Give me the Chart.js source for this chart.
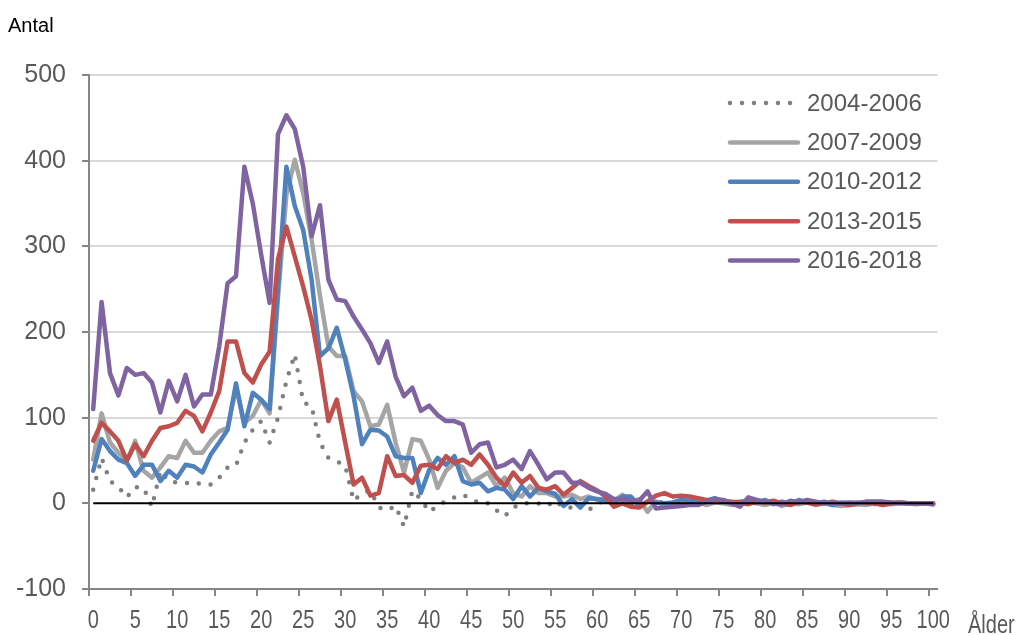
<!DOCTYPE html>
<html><head><meta charset="utf-8">
<script src="https://cdn.jsdelivr.net/npm/chart.js@4.4.1/dist/chart.umd.min.js"></script>
<style>html,body{margin:0;padding:0;background:#fff;}#wrap{width:1019px;height:635px;position:relative;}</style>
</head><body><div id="wrap"><canvas id="c" width="1019" height="635"></canvas></div>
<script>
const categories = ['0','1','2','3','4','5','6','7','8','9','10','11','12','13','14','15','16','17','18','19','20','21','22','23','24','25','26','27','28','29','30','31','32','33','34','35','36','37','38','39','40','41','42','43','44','45','46','47','48','49','50','51','52','53','54','55','56','57','58','59','60','61','62','63','64','65','66','67','68','69','70','71','72','73','74','75','76','77','78','79','80','81','82','83','84','85','86','87','88','89','90','91','92','93','94','95','96','97','98','99','100'];
const xTickLabels = ['0','5','10','15','20','25','30','35','40','45','50','55','60','65','70','75','80','85','90','95','100'];
const yTicks = [-100, 0, 100, 200, 300, 400, 500];
const seriesNames = ['2004-2006','2007-2009','2010-2012','2013-2015','2016-2018'];

const v2004 = [16,53,26,19,7,19,18,-4,38,26,
  24,24,22,24,22,30,42,44,71,86,
  96,71,100,143,174,118,113,71,53,49,
  44,3,12,15,-5,-8,-3,-27,15,5,
  -10,-3,3,7,10,5,0,0,-8,-15,
  -5,0,0,0,-3,3,-5,-5,0,-8,
  0,3,-2,5,0,3,-8,0,2,-1,
  2,0,-1,1,0,1,0,-1,1,0,
  0,1,-1,0,1,0,0,-1,0,0,
  1,0,0,-1,0,0,0,0,0,0,
  0];
const v2007 = [51,105,71,59,49,73,38,30,42,55,
  53,73,59,59,73,84,88,135,94,102,
  121,105,240,360,401,362,308,242,183,172,
  172,131,119,90,92,115,71,36,75,73,
  51,18,38,47,42,24,30,36,20,30,
  12,8,20,12,12,8,8,10,5,8,
  4,6,3,10,2,5,-10,2,-3,0,
  3,-1,2,-2,1,0,-2,-1,2,0,
  -2,1,-3,0,-1,1,-2,0,-2,-3,
  -2,-1,-2,0,-1,-1,0,0,-1,0,
  0];
const v2010 = [38,75,61,51,47,32,45,45,26,38,
  30,45,43,36,57,71,86,140,90,129,
  121,110,250,393,347,319,261,172,181,205,
  168,125,69,86,85,78,55,53,53,12,
  39,53,45,55,26,22,24,14,18,16,
  5,20,8,18,14,11,-3,5,-5,6,
  5,3,0,8,8,-3,2,1,0,1,
  4,3,2,3,6,2,1,2,3,1,
  4,-1,2,-1,4,1,0,2,-2,1,
  0,1,0,0,1,0,1,0,0,0,
  -1];
const v2013 = [73,94,84,73,50,69,55,73,88,90,
  94,108,102,84,106,131,189,189,152,141,
  162,177,285,323,288,253,214,160,96,121,
  71,22,30,9,12,55,32,33,24,44,
  45,40,55,47,51,45,57,45,30,20,
  36,24,32,18,16,20,10,18,26,20,
  15,8,-4,0,-4,-5,2,9,12,8,
  9,8,6,4,4,3,2,1,-1,2,
  1,3,0,-2,2,1,-1,0,2,0,
  -2,0,1,0,-2,0,1,0,0,0,
  0];
const v2016 = [110,235,152,126,158,150,152,141,106,143,
  119,150,113,127,127,183,257,265,393,350,
  290,234,431,453,437,393,312,348,261,238,
  236,218,203,187,164,189,148,125,135,108,
  114,103,96,96,92,59,69,71,42,45,
  51,40,61,45,28,36,36,24,24,18,
  14,11,5,5,3,3,14,-6,-5,-4,
  -3,-2,-2,2,5,4,0,-4,7,4,
  2,0,-1,3,1,4,2,0,1,0,
  1,0,2,2,2,1,0,0,0,0,
  -1];

const TXT = '#595959';
const AXIS = '#868686';
const GRID = '#d9d9d9';
const SANS = "'Liberation Sans',Arial,sans-serif";
const NARROW_SCALE = 0.8;

const styles = [
  {color:'#7f7f7f', dash:[0,12]},
  {color:'#a5a5a5', dash:[]},
  {color:'#4f81bd', dash:[]},
  {color:'#c0504d', dash:[]},
  {color:'#8064a2', dash:[]}
];
const values = [v2004, v2007, v2010, v2013, v2016];

const datasets = values.map((vals, i) => ({
  label: seriesNames[i],
  data: vals,
  borderColor: styles[i].color,
  backgroundColor: styles[i].color,
  borderWidth: 4.5,
  borderDash: styles[i].dash,
  borderCapStyle: 'round',
  borderJoinStyle: 'round',
  pointRadius: 0,
  pointHoverRadius: 0,
  tension: 0,
  fill: false,
  order: 5 - i
}));

function narrowText(c, text, x, y, align) {
  c.save();
  c.translate(x, y);
  c.scale(NARROW_SCALE, 1);
  c.textAlign = align;
  c.fillText(text, 0, 0);
  c.restore();
}

const extras = {
  id: 'extras',
  afterDatasetsDraw(chart) {
    const c = chart.ctx, x = chart.scales.x, y = chart.scales.y;
    c.save();
    c.strokeStyle = '#000';
    c.lineWidth = 2;
    c.beginPath();
    const y0 = y.getPixelForValue(0);
    c.moveTo(x.getPixelForValue(0), y0);
    c.lineTo(x.getPixelForValue(categories.length - 1), y0);
    c.stroke();
    c.restore();
  },
  afterDraw(chart) {
    const c = chart.ctx, x = chart.scales.x;
    c.save();
    // x tick labels (condensed)
    c.fillStyle = TXT;
    c.font = "25px " + SANS;
    c.textBaseline = 'alphabetic';
    xTickLabels.forEach(l => {
      narrowText(c, l, x.getPixelForValue(categories.indexOf(l)), 628, 'center');
    });
    narrowText(c, 'Ålder', 968, 633, 'left');
    // y title
    c.fillStyle = '#000';
    c.font = "20px " + SANS;
    c.textAlign = 'left';
    c.fillText('Antal', 8, 32);
    // legend
    chart.data.datasets.forEach((ds, i) => {
      const yy = 103 + i * 39.4;
      c.strokeStyle = ds.borderColor;
      c.lineWidth = ds.borderWidth;
      c.lineCap = 'round';
      c.setLineDash(ds.borderDash || []);
      c.beginPath();
      c.moveTo(730, yy);
      c.lineTo((ds.borderDash && ds.borderDash.length) ? 792 : 798, yy);
      c.stroke();
      c.setLineDash([]);
      c.fillStyle = TXT;
      c.font = "24px " + SANS;
      c.textBaseline = 'middle';
      c.textAlign = 'left';
      c.fillText(ds.label, 807, yy + 1);
    });
    c.restore();
  }
};

new Chart(document.getElementById('c'), {
  type: 'line',
  data: { labels: categories, datasets },
  options: {
    responsive: false,
    animation: false,
    events: [],
    layout: { padding: { top: 75, right: 81.6, left: 0, bottom: 0 } },
    plugins: { legend: { display: false }, tooltip: { enabled: false }, title: { display: false } },
    scales: {
      x: {
        type: 'category',
        offset: true,
        border: { display: true, color: AXIS, width: 2 },
        grid: {
          display: true, drawOnChartArea: false, drawTicks: true, offset: true,
          tickLength: 7, lineWidth: 2,
          tickColor: ctx => (ctx.index !== undefined && ctx.index % 5 === 0) ? AXIS : 'rgba(0,0,0,0)'
        },
        ticks: { display: false, autoSkip: false, maxRotation: 0, minRotation: 0 },
        afterFit: s => { s.height = 46; }
      },
      y: {
        type: 'linear',
        min: yTicks[0], max: yTicks[yTicks.length - 1],
        afterBuildTicks: s => { s.ticks = yTicks.map(v => ({ value: v })); },
        border: { display: true, color: AXIS, width: 2 },
        grid: {
          display: true, drawOnChartArea: true, drawTicks: true, tickLength: 7, lineWidth: 2,
          color: ctx => (ctx.tick && (ctx.tick.value === 0 || ctx.tick.value === yTicks[0])) ? 'rgba(0,0,0,0)' : GRID,
          tickColor: AXIS
        },
        ticks: { padding: 16, color: TXT, font: { family: SANS, size: 25 } },
        afterFit: s => { s.width = 89; }
      }
    }
  },
  plugins: [extras]
});
</script></body></html>
